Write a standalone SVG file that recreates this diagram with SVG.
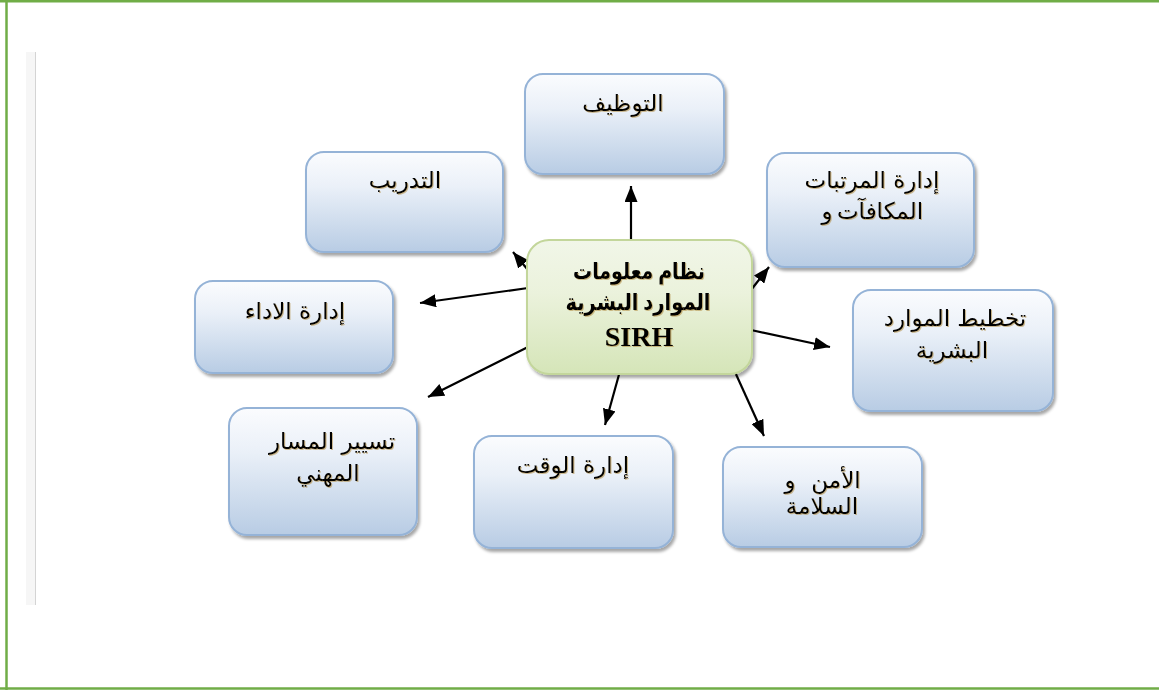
<svg xmlns="http://www.w3.org/2000/svg" width="1159" height="690" viewBox="0 0 1159 690">
  <defs>
    <linearGradient id="blueFill" x1="0" y1="0" x2="0" y2="1">
      <stop offset="0" stop-color="#fbfcfe"/>
      <stop offset="0.35" stop-color="#eaf0f8"/>
      <stop offset="1" stop-color="#b8cce4"/>
    </linearGradient>
    <linearGradient id="greenFill" x1="0" y1="0" x2="0" y2="1">
      <stop offset="0" stop-color="#f1f6e8"/>
      <stop offset="0.4" stop-color="#ebf2dc"/>
      <stop offset="1" stop-color="#d5e5b8"/>
    </linearGradient>
    <filter id="boxShadow" x="-10%" y="-10%" width="125%" height="130%">
      <feDropShadow dx="2" dy="3" stdDeviation="1.6" flood-color="#000" flood-opacity="0.35"/>
    </filter>
    <filter id="textGlow" x="-5%" y="-20%" width="110%" height="140%">
      <feDropShadow dx="1" dy="1" stdDeviation="0.6" flood-color="#b08a40" flood-opacity="0.55"/>
    </filter>
    <marker id="arrow" viewBox="0 0 16 13" refX="16" refY="6.5" markerWidth="16" markerHeight="13" markerUnits="userSpaceOnUse" orient="auto">
      <path d="M0,0 L16,6.5 L0,13 z" fill="#000"/>
    </marker>
  </defs>
  <style>
    .box { fill: url(#blueFill); stroke: #95b3d7; stroke-width: 2; filter: url(#boxShadow); }
    .core { fill: url(#greenFill); stroke: #c3d69b; stroke-width: 2; filter: url(#boxShadow); }
    .lbl { font-family: "DejaVu Sans", "Liberation Sans", sans-serif; font-size: 23px; fill: #000; text-anchor: middle; filter: url(#textGlow); }
    .title { font-family: "Liberation Serif", "DejaVu Sans", serif; font-size: 23px; font-weight: bold; fill: #000; text-anchor: middle; filter: url(#textGlow); }
    .link { stroke: #000; stroke-width: 2.2; fill: none; marker-end: url(#arrow); }
  </style>

  <!-- page frame -->
  <rect x="0" y="0" width="1159" height="690" fill="#fff"/>
  <line x1="6.5" y1="0" x2="6.5" y2="690" stroke="#70ad47" stroke-width="2.5"/>
  <line x1="0" y1="1.2" x2="1159" y2="1.2" stroke="#70ad47" stroke-width="2.5"/>
  <line x1="0" y1="688.5" x2="1159" y2="688.5" stroke="#70ad47" stroke-width="2.5"/>
  <!-- margin bar -->
  <rect x="26" y="52" width="10" height="553" fill="#f6f6f6"/>
  <line x1="35.5" y1="52" x2="35.5" y2="605" stroke="#d4d4d4" stroke-width="1"/>

  <!-- connectors -->
  <g id="connectors">
    <line class="link" x1="631" y1="240" x2="631" y2="186"/>
    <line class="link" x1="528" y1="270" x2="513" y2="252"/>
    <line class="link" x1="751" y1="290" x2="769" y2="267"/>
    <line class="link" x1="751" y1="330" x2="830" y2="347"/>
    <line class="link" x1="528" y1="288" x2="420" y2="303"/>
    <line class="link" x1="528" y1="347" x2="428" y2="397"/>
    <line class="link" x1="620" y1="371" x2="605" y2="425"/>
    <line class="link" x1="735" y1="372" x2="764" y2="436"/>
  </g>

  <g id="node-recruitment">
    <rect class="box" x="525" y="74" width="199" height="100" rx="18"/>
    <text class="lbl" x="623" y="111">التوظيف</text>
  </g>

  <g id="node-training">
    <rect class="box" x="306" y="152" width="197" height="100" rx="18"/>
    <text class="lbl" x="405" y="188">التدريب</text>
  </g>

  <g id="node-payroll">
    <rect class="box" x="767" y="153" width="207" height="114" rx="18"/>
    <text class="lbl" x="872" y="188">إدارة المرتبات</text>
    <text class="lbl" x="827" y="219">و</text>
    <text class="lbl" x="880" y="219">المكافآت</text>
  </g>

  <g id="node-planning">
    <rect class="box" x="853" y="290" width="200" height="121" rx="18"/>
    <text class="lbl" x="955" y="326">تخطيط الموارد</text>
    <text class="lbl" x="952" y="358">البشرية</text>
  </g>

  <g id="node-performance">
    <rect class="box" x="195" y="281" width="198" height="92" rx="18"/>
    <text class="lbl" x="295" y="319">إدارة الاداء</text>
  </g>

  <g id="node-career">
    <rect class="box" x="229" y="408" width="188" height="127" rx="18"/>
    <text class="lbl" x="332" y="449">تسيير المسار</text>
    <text class="lbl" x="328" y="481">المهني</text>
  </g>

  <g id="node-time">
    <rect class="box" x="474" y="436" width="199" height="112" rx="18"/>
    <text class="lbl" x="573" y="473">إدارة الوقت</text>
  </g>

  <g id="node-safety">
    <rect class="box" x="723" y="447" width="199" height="100" rx="18"/>
    <text class="lbl" x="790" y="488">و</text>
    <text class="lbl" x="836" y="488">الأمن</text>
    <text class="lbl" x="822" y="514">السلامة</text>
  </g>

  <g id="node-sirh">
    <rect class="core" x="527" y="240" width="225" height="134" rx="22"/>
    <text class="title" x="639" y="279" textLength="132" lengthAdjust="spacingAndGlyphs">نظام معلومات</text>
    <text class="title" x="638" y="310" textLength="145" lengthAdjust="spacingAndGlyphs">الموارد البشرية</text>
    <text class="title" x="639" y="346" style="font-size:28px">SIRH</text>
  </g>
</svg>
